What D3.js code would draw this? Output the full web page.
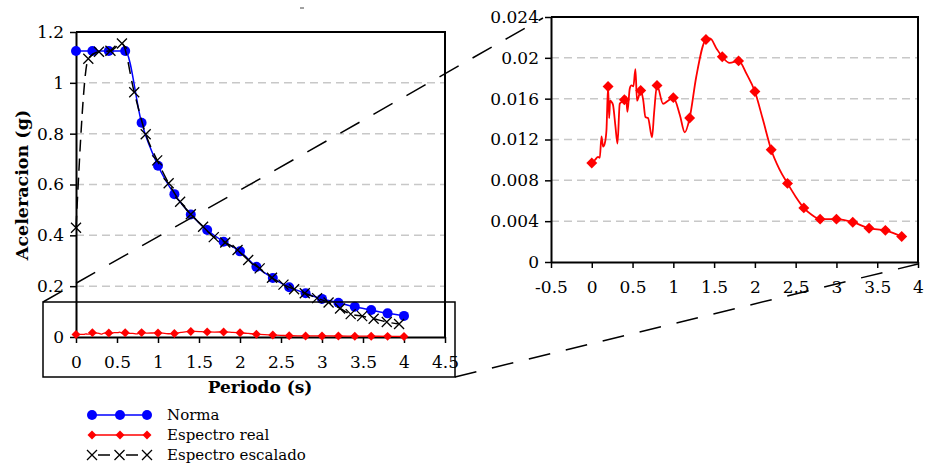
<!DOCTYPE html>
<html>
<head>
<meta charset="utf-8">
<script src="https://cdn.jsdelivr.net/npm/d3@7"></script>
<style>
  body { margin: 0; background: #fff; }
</style>
</head>
<body>
<div id="chart"></div>
<script>
// datos
const normaT = [0, 0.2, 0.4, 0.6, 0.8, 1.0, 1.2, 1.4, 1.6, 1.8, 2.0, 2.2, 2.4, 2.6, 2.8, 3.0, 3.2, 3.4, 3.6, 3.8, 4.0];
const normaSa = [1.125, 1.125, 1.125, 1.125, 0.843, 0.674, 0.562, 0.482, 0.421, 0.375, 0.337, 0.276, 0.232, 0.196, 0.172, 0.150, 0.135, 0.119, 0.106, 0.093, 0.083];

const escT = [0, 0.15, 0.28, 0.42, 0.56, 0.71, 0.85, 0.99, 1.13, 1.27, 1.40, 1.55, 1.68, 1.82, 1.97, 2.10, 2.24, 2.39, 2.53, 2.66, 2.79, 2.94, 3.08, 3.22, 3.35, 3.49, 3.63, 3.79, 3.94];
const escSa = [0.43, 1.095, 1.122, 1.126, 1.155, 0.963, 0.798, 0.695, 0.605, 0.532, 0.483, 0.434, 0.393, 0.372, 0.342, 0.303, 0.270, 0.233, 0.206, 0.188, 0.172, 0.153, 0.136, 0.112, 0.090, 0.082, 0.072, 0.059, 0.051];

const realT = [0, 0.04, 0.077, 0.098, 0.119, 0.139, 0.159, 0.18, 0.2, 0.213, 0.225, 0.241, 0.26, 0.29, 0.315, 0.343, 0.37, 0.4, 0.42, 0.437, 0.466, 0.486, 0.51, 0.535, 0.555, 0.567, 0.6, 0.63, 0.658, 0.69, 0.739, 0.764, 0.8, 0.874, 0.935, 1.0, 1.08, 1.14, 1.2, 1.28, 1.4, 1.45, 1.53, 1.6, 1.69, 1.8, 1.9, 2.0, 2.1, 2.2, 2.3, 2.4, 2.5, 2.6, 2.7, 2.8, 3.0, 3.2, 3.4, 3.6, 3.8, 4.0];
const realSa = [0.0097, 0.0100, 0.0103, 0.0102, 0.0123, 0.0113, 0.0116, 0.0129, 0.0172, 0.0141, 0.0158, 0.0157, 0.0154, 0.0133, 0.0116, 0.0155, 0.0157, 0.0159, 0.0162, 0.0147, 0.0170, 0.0173, 0.0172, 0.0189, 0.0158, 0.0160, 0.0168, 0.0159, 0.0142, 0.0141, 0.0122, 0.0146, 0.0173, 0.0155, 0.0158, 0.0161, 0.0144, 0.0127, 0.0141, 0.0181, 0.0218, 0.0219, 0.0209, 0.0201, 0.0195, 0.0197, 0.0184, 0.0167, 0.0139, 0.0110, 0.0091, 0.0077, 0.0064, 0.0053, 0.0046, 0.0042, 0.0042, 0.0039, 0.0033, 0.0031, 0.0025, 0.0020];

const leftYTicks = [0, 0.2, 0.4, 0.6, 0.8, 1, 1.2];
const leftXTicks = [0, 0.5, 1, 1.5, 2, 2.5, 3, 3.5, 4, 4.5];
const rightYTicks = [0, 0.004, 0.008, 0.012, 0.016, 0.02, 0.024];
const rightXTicks = [-0.5, 0, 0.5, 1, 1.5, 2, 2.5, 3, 3.5, 4];

const legendNames = ["Norma", "Espectro real", "Espectro escalado"];

const width = 925, height = 466;
const serif = "'DejaVu Serif', 'Liberation Serif', serif";

const svg = d3.select("#chart").append("svg")
    .attr("width", width)
    .attr("height", height)
    .attr("font-family", serif);

const norma = normaT.map((t, i) => ({x: t, y: normaSa[i]}));
const esc = escT.map((t, i) => ({x: t, y: escSa[i]}));
const real = realT.map((t, i) => ({x: t, y: realSa[i]}));
const isMarker = d => Math.abs(d.x * 5 - Math.round(d.x * 5)) < 1e-6;

const diamond = d3.symbol().type(d3.symbolSquare).size(40);

function drawX(g, data, x, y) {
    g.selectAll("path.xm")
        .data(data)
        .join("path")
        .attr("class", "xm")
        .attr("d", d => {
            const cx = x(d.x), cy = y(d.y), s = 5;
            return `M${cx-s},${cy-s}L${cx+s},${cy+s}M${cx-s},${cy+s}L${cx+s},${cy-s}`;
        })
        .attr("stroke", "black")
        .attr("stroke-width", 1.3);
}

function frame(g, x, y, yTicks, xTicks, fmtY) {
    // grid
    g.append("g").selectAll("line")
        .data(yTicks.slice(1, -1))
        .join("line")
        .attr("x1", x.range()[0]).attr("x2", x.range()[1])
        .attr("y1", d => y(d)).attr("y2", d => y(d))
        .attr("stroke", "#c8c8c8")
        .attr("stroke-width", 1.5)
        .attr("stroke-dasharray", "8,5");
    // borde superior y derecho
    g.append("path")
        .attr("d", `M${x.range()[0]},${y.range()[1]}H${x.range()[1]}V${y.range()[0]}`)
        .attr("fill", "none")
        .attr("stroke", "black")
        .attr("stroke-width", 2);

    const yAxis = g.append("g")
        .attr("transform", `translate(${x.range()[0]},0)`)
        .call(d3.axisLeft(y).tickValues(yTicks).tickSize(6).tickPadding(6).tickSizeOuter(0).tickFormat(fmtY));
    const xAxis = g.append("g")
        .attr("transform", `translate(0,${y.range()[0]})`)
        .call(d3.axisBottom(x).tickValues(xTicks).tickSize(6).tickPadding(13).tickSizeOuter(0).tickFormat(d => d));
    [yAxis, xAxis].forEach(a => {
        a.attr("font-family", serif).attr("font-size", 17);
        a.select(".domain").attr("stroke-width", 2);
        a.selectAll(".tick line").attr("stroke-width", 1.5);
        a.selectAll("text").attr("fill", "black");
    });
    return {xAxis, yAxis};
}

// ---- grafico izquierdo
const xL = d3.scaleLinear().domain([0, 4.5]).range([76, 445]);
const yL = d3.scaleLinear().domain([0, 1.2]).range([337, 32]);
const left = svg.append("g");
frame(left, xL, yL, leftYTicks, leftXTicks, d => d);

const lineL = d3.line().x(d => xL(d.x)).y(d => yL(d.y)).curve(d3.curveMonotoneX);

left.append("path").datum(real)
    .attr("d", lineL).attr("fill", "none").attr("stroke", "red").attr("stroke-width", 1.3);
left.selectAll("path.dm").data(real.filter(isMarker)).join("path")
    .attr("class", "dm")
    .attr("d", diamond)
    .attr("transform", d => `translate(${xL(d.x)},${yL(d.y)}) rotate(45)`)
    .attr("fill", "red");

left.append("path").datum(norma)
    .attr("d", lineL).attr("fill", "none").attr("stroke", "blue").attr("stroke-width", 1.5);
left.selectAll("circle.nm").data(norma).join("circle")
    .attr("class", "nm")
    .attr("cx", d => xL(d.x)).attr("cy", d => yL(d.y)).attr("r", 5)
    .attr("fill", "blue");

left.append("path").datum(esc)
    .attr("d", lineL).attr("fill", "none").attr("stroke", "black")
    .attr("stroke-width", 1.5).attr("stroke-dasharray", "12,7");
drawX(left, esc, xL, yL);

left.append("text")
    .attr("transform", "translate(28,185) rotate(-90)")
    .attr("text-anchor", "middle")
    .attr("font-weight", "bold").attr("font-size", 17.5)
    .text("Aceleracion (g)");
left.append("text")
    .attr("x", 260).attr("y", 393)
    .attr("text-anchor", "middle")
    .attr("font-weight", "bold").attr("font-size", 17)
    .text("Periodo (s)");

// recuadro de zoom
svg.append("rect")
    .attr("x", 43).attr("y", 302).attr("width", 412).attr("height", 75)
    .attr("fill", "none").attr("stroke", "black").attr("stroke-width", 1.5);

// ---- grafico derecho
const xR = d3.scaleLinear().domain([-0.5, 4]).range([551, 918]);
const yR = d3.scaleLinear().domain([0, 0.024]).range([262, 17]);
const right = svg.append("g");
frame(right, xR, yR, rightYTicks, rightXTicks, d => d);

const lineR = d3.line().x(d => xR(d.x)).y(d => yR(d.y)).curve(d3.curveMonotoneX);
const realR = real.filter(d => d.x < 4);
right.append("path").datum(realR)
    .attr("d", lineR).attr("fill", "none").attr("stroke", "red").attr("stroke-width", 1.8);
right.selectAll("path.dm").data(realR.filter(isMarker)).join("path")
    .attr("class", "dm")
    .attr("d", d3.symbol().type(d3.symbolSquare).size(60))
    .attr("transform", d => `translate(${xR(d.x)},${yR(d.y)}) rotate(45)`)
    .attr("fill", "red");

// lineas de conexion
const conn = svg.append("g")
    .attr("stroke", "black").attr("stroke-width", 1.5)
    .attr("stroke-dasharray", "22,16").attr("fill", "none");
conn.append("line").attr("x1", 43).attr("y1", 302).attr("x2", 543).attr("y2", 18);
conn.append("line").attr("x1", 455).attr("y1", 377).attr("x2", 918).attr("y2", 264);

svg.append("line").attr("x1", 300).attr("x2", 304).attr("y1", 8).attr("y2", 8)
    .attr("stroke", "#444").attr("stroke-width", 1);

// ---- leyenda
const lg = svg.append("g");
const legY = [415, 435, 455];
const legX = [92, 120, 147];
const lx = d3.scaleLinear().domain([0, 2]).range([92, 147]);

lg.append("line").attr("x1", 92).attr("x2", 147).attr("y1", legY[0]).attr("y2", legY[0])
    .attr("stroke", "blue").attr("stroke-width", 1.5);
lg.selectAll("circle").data(legX).join("circle")
    .attr("cx", d => d).attr("cy", legY[0]).attr("r", 5).attr("fill", "blue");

lg.append("line").attr("x1", 92).attr("x2", 147).attr("y1", legY[1]).attr("y2", legY[1])
    .attr("stroke", "red").attr("stroke-width", 1.5);
lg.selectAll("path.dm").data(legX).join("path")
    .attr("class", "dm")
    .attr("d", diamond)
    .attr("transform", d => `translate(${d},${legY[1]}) rotate(45)`)
    .attr("fill", "red");

lg.append("line").attr("x1", 92).attr("x2", 147).attr("y1", legY[2]).attr("y2", legY[2])
    .attr("stroke", "black").attr("stroke-width", 1.5).attr("stroke-dasharray", "0,6,12,10");
drawX(lg, legX.map((v, i) => ({x: i, y: 0})), lx, () => legY[2]);

lg.selectAll("text").data(legendNames).join("text")
    .attr("x", 167).attr("y", (d, i) => legY[i] + 5)
    .attr("font-size", 15)
    .text(d => d);
</script>
</body>
</html>
